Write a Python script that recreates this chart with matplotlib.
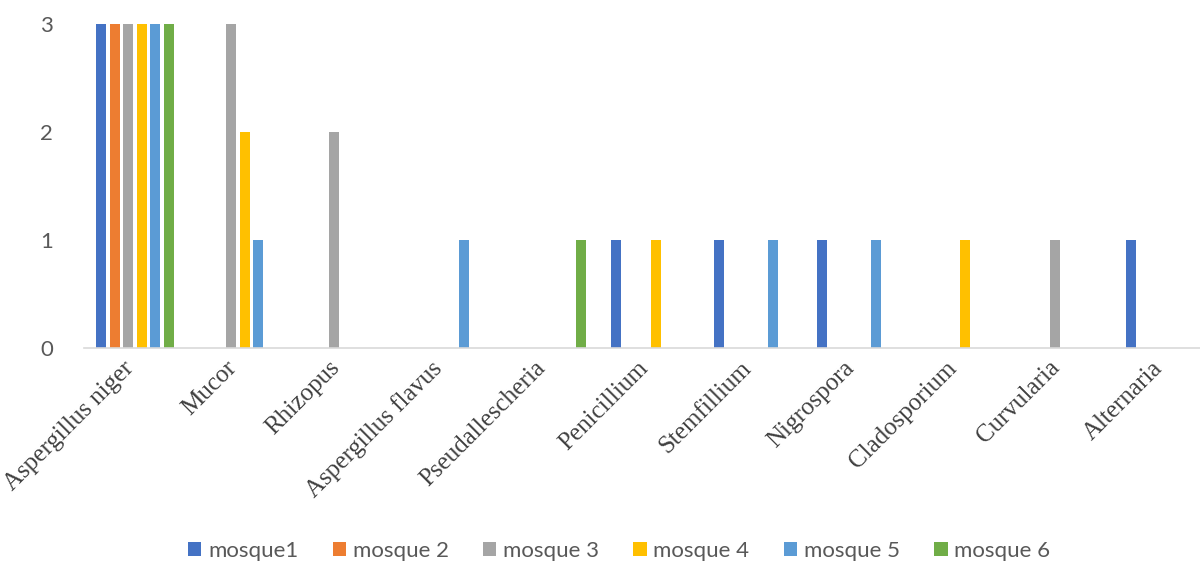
import numpy as np
import matplotlib
matplotlib.use('Agg')
import matplotlib.pyplot as plt
from matplotlib.transforms import ScaledTranslation

categories = ['Aspergillus niger', 'Mucor', 'Rhizopus', 'Aspergillus flavus',
              'Pseudallescheria', 'Penicillium', 'Stemfillium', 'Nigrospora',
              'Cladosporium', 'Curvularia', 'Alternaria']
series_names = ['mosque1', 'mosque 2', 'mosque 3', 'mosque 4', 'mosque 5', 'mosque 6']
mosque1 = [3, 0, 0, 0, 0, 1, 1, 1, 0, 0, 1]
mosque2 = [3, 0, 0, 0, 0, 0, 0, 0, 0, 0, 0]
mosque3 = [3, 3, 2, 0, 0, 0, 0, 0, 0, 1, 0]
mosque4 = [3, 2, 0, 0, 0, 1, 0, 0, 1, 0, 0]
mosque5 = [3, 1, 0, 1, 0, 0, 1, 1, 0, 0, 0]
mosque6 = [3, 0, 0, 0, 1, 0, 0, 0, 0, 0, 0]
colors = ['#4472C4', '#ED7D31', '#A5A5A5', '#FFC000', '#5B9BD5', '#70AD47']

series = [mosque1, mosque2, mosque3, mosque4, mosque5, mosque6]

fig = plt.figure(figsize=(12, 5.63), dpi=100)
ax = fig.add_axes([83.5 / 1200, 1 - 348 / 563, (1216 - 83.5) / 1200, 324 / 563])

x = np.arange(len(categories))
step = 13.5 / 103
width = 10 / 103
for i, (vals, name, c) in enumerate(zip(series, series_names, colors)):
    ax.bar(x + (i - 2.5) * step, vals, width=width, color=c, label=name)

ax.set_xlim(-0.5, len(categories) - 0.5)
ax.set_ylim(0, 3)
ax.set_yticks([0, 1, 2, 3])
for s in ['top', 'right', 'left']:
    ax.spines[s].set_visible(False)
ax.spines['bottom'].set_color('#D9D9D9')
ax.spines['bottom'].set_linewidth(1.2)
ax.tick_params(axis='y', length=0, pad=22, labelsize=16, labelcolor='#595959')
ax.tick_params(axis='x', length=0, pad=12)
for lab in ax.get_yticklabels():
    lab.set_family('Lato')

ax.set_xticks(x)
ax.set_xticklabels(categories, rotation=45, ha='right', va='center', rotation_mode='anchor',
                   family='Liberation Serif', fontsize=18, color='#404040')
# shift labels a little left
shift = ScaledTranslation(-5 / 100, 0, fig.dpi_scale_trans)
for lab in ax.get_xticklabels():
    lab.set_transform(lab.get_transform() + shift)

fig.legend(loc='center', bbox_to_anchor=(0.516, 0.021), ncol=6, frameon=False,
           prop={'family': 'Lato', 'size': 16}, labelcolor='#595959',
           handlelength=0.6, handleheight=0.6, handletextpad=0.3, columnspacing=1.55)

fig.savefig('out.png', dpi=100)
